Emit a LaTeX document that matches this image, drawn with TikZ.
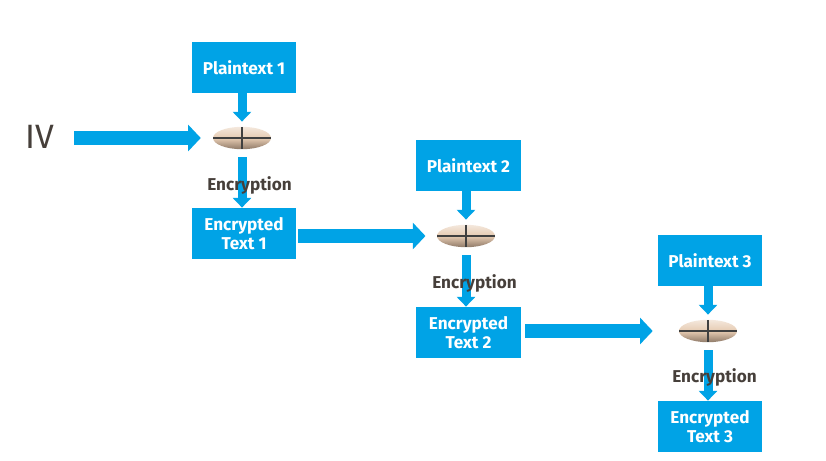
\documentclass[tikz,border=0pt]{standalone}
\usepackage{fontspec}
\setmainfont{Fira Sans}
\usetikzlibrary{arrows.meta}
\usetikzlibrary{shapes.geometric}
\definecolor{flowblue}{HTML}{00A3E6}
\definecolor{labelgray}{HTML}{463F3A}
\definecolor{disctan}{HTML}{E6CBB2}
\definecolor{discdark}{HTML}{8F7A68}
\tikzset{
  textbox/.style={fill=flowblue,text=white,minimum width=2.6cm,minimum height=1.28cm,align=center,
    font=\fontsize{12.2}{14}\selectfont\bfseries,inner sep=0pt},
  cipher/.style={ellipse,minimum width=1.45cm,minimum height=0.56cm,inner sep=0pt,
    top color=disctan!45,bottom color=discdark,middle color=disctan,
    path picture={\draw[black!75,line width=0.8pt]
      (path picture bounding box.west) -- (path picture bounding box.east)
      (path picture bounding box.north) -- (path picture bounding box.south);}},
  enclabel/.style={text=labelgray,font=\fontsize{12.2}{14}\selectfont\bfseries,inner sep=0pt},
  thinflow/.style={flowblue,line width=6.4pt,-{Triangle[width=13pt,length=7pt]}},
  wideflow/.style={flowblue,line width=10pt,-{Triangle[width=18.5pt,length=9pt]}}
}
\begin{document}
\begin{tikzpicture}[x=0.025cm,y=-0.025cm]
  \useasboundingbox (0,0) rectangle (826,460);
  \node[text=labelgray,font=\fontsize{24}{24}\selectfont,inner sep=0pt] (iv) at (40,137) {IV};
  \coordinate (ivend) at (74,138);
  % first stage
  \node[textbox] (plain1) at (244,67.5) {Plaintext 1};
  \node[cipher] (enc1) at (242,138) {};
  \node[textbox] (out1) at (244,233.5) {Encrypted\\Text 1};
  % second stage
  \node[textbox] (plain2) at (468.5,165.5) {Plaintext 2};
  \node[cipher] (enc2) at (466,236) {};
  \node[textbox] (out2) at (468.5,332.5) {Encrypted\\Text 2};
  % third stage
  \node[textbox] (plain3) at (710,260.5) {Plaintext 3};
  \node[cipher] (enc3) at (708,331) {};
  \node[textbox] (out3) at (710,426.5) {Encrypted\\Text 3};
  \draw[wideflow,shorten >=8.5pt] (ivend) -- (enc1);
  \draw[wideflow,shorten <=1.5pt,shorten >=8pt] (out1.east |- enc2) -- (enc2);
  \draw[wideflow,shorten <=3pt,shorten >=18.5pt] (out2.east |- enc3) -- (enc3);
  \foreach\i in {1,2,3} {
    \draw[thinflow,shorten >=3.5pt] (plain\i.south -| enc\i) -- (enc\i);
    \draw[thinflow,shorten <=5.5pt] (enc\i) -- (out\i.north -| enc\i);
  }
  \node[enclabel] (lab1) at (249.5,185) {Encryption};
  \node[enclabel] (lab2) at (474.5,283) {Encryption};
  \node[enclabel] (lab3) at (714.5,377) {Encryption};
\end{tikzpicture}
\end{document}
